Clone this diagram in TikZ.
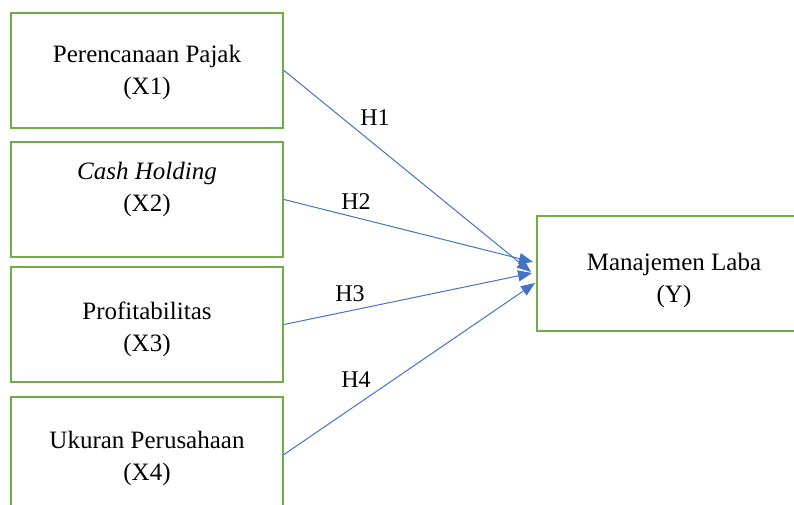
\documentclass[tikz,border=0pt]{standalone}
\usepackage{fontspec}
\setmainfont{Liberation Serif}
\usetikzlibrary{arrows.meta}
\definecolor{boxgreen}{RGB}{112,173,71}
\definecolor{arrowblue}{RGB}{68,114,196}
\tikzset{
  varbox/.style={draw=boxgreen, line width=2pt, minimum width=272pt, minimum height=115pt,
    inner sep=0pt},
  boxtext/.style={align=center, inner sep=0pt, font=\fontsize{25}{32}\selectfont},
  hypo/.style={draw=arrowblue, line width=1pt, -{Triangle[length=14pt,width=11pt]}},
  hlabel/.style={font=\fontsize{24}{28}\selectfont, inner sep=0pt}
}
\begin{document}
\begin{tikzpicture}[x=1pt,y=-1pt]
\useasboundingbox (0,0) rectangle (794,504);
\clip (0,0) rectangle (794,504);
\node[varbox] (b1) at (147,70.5) {};
\node[varbox] (b2) at (147,199.5) {};
\node[varbox] (b3) at (147,324.5) {};
\node[varbox] (b4) at (147,454.5) {};
\node[varbox, minimum width=274pt] (y) at (674,273.5) {};
\node[boxtext] (b1t) at (147,72) {Perencanaan Pajak\\(X1)};
\node[boxtext] (b2t) at (147,189) {\textit{Cash Holding}\\(X2)};
\node[boxtext] (b3t) at (147,329) {Profitabilitas\\(X3)};
\node[boxtext] (b4t) at (147,458.5) {Ukuran Perusahaan\\(X4)};
\node[boxtext] (yt) at (674,280) {Manajemen Laba\\(Y)};
\coordinate (t1) at (531,272);
\coordinate (t2) at (533,262);
\coordinate (t3) at (532,273);
\coordinate (t4) at (535,283);
\draw[hypo] (b1.east) -- (t1);
\draw[hypo] (b2.east) -- (t2);
\draw[hypo] (b3.east) -- (t3);
\draw[hypo] (b4.east) -- (t4);
\node[hlabel] (h1) at (375,118) {H1};
\node[hlabel] (h2) at (356,202) {H2};
\node[hlabel] (h3) at (350,294) {H3};
\node[hlabel] (h4) at (356,380) {H4};
\end{tikzpicture}
\end{document}
